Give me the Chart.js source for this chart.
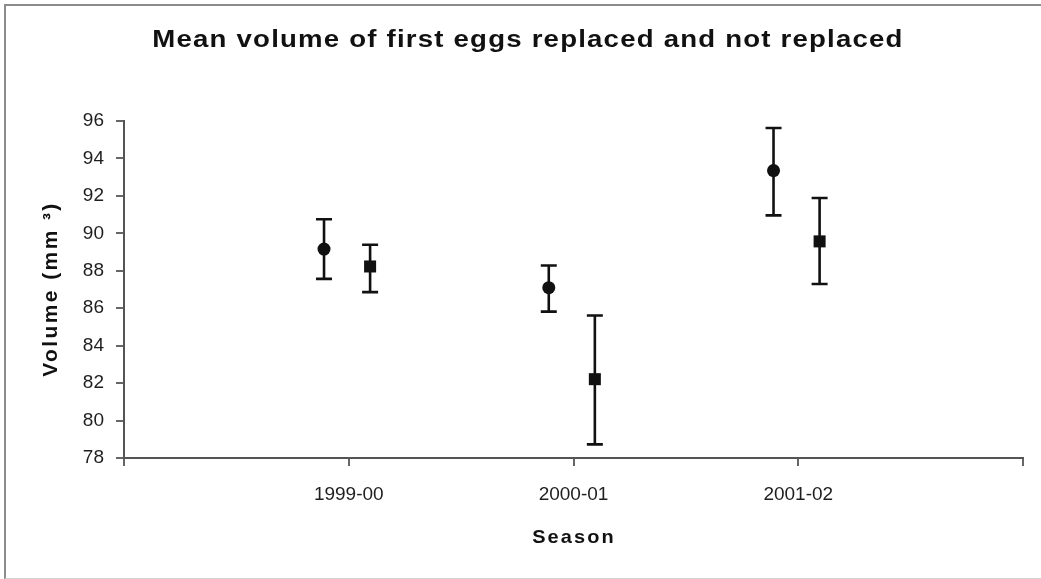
<!DOCTYPE html>
<html lang="en">
<head>
<meta charset="UTF-8">
<title>Mean volume of first eggs</title>
<script src="https://cdn.jsdelivr.net/npm/chart.js"></script>
<style>
  html, body { margin: 0; padding: 0; background: #fff; }
  .janela { position: relative; width: 1041px; height: 579px; overflow: hidden; }
  .janela canvas { position: absolute; left: 0; top: 0; }
  .moldura {
    position: absolute; left: 4px; top: 4px; right: -10px; bottom: 0;
    border-left: 2px solid #8c8c8c; border-top: 2px solid #8c8c8c;
    border-bottom: 1px solid #d4d4d4; pointer-events: none;
  }
</style>
</head>
<body>
<div class="janela">
  <canvas id="grafico" width="1041" height="579"></canvas>
  <div class="moldura"></div>
</div>

<script>
const TITULO = 'Mean volume of first eggs replaced and not replaced';
const TITULO_X = 'Season';
const TITULO_Y = 'Volume (mm \u00B3)';

const seasons = ['1999-00', '2000-01', '2001-02'];

// first eggs replaced (circles)
const replacedMean = [89.16, 87.10, 93.35];
const replacedLow  = [87.57, 85.82, 90.96];
const replacedHigh = [90.75, 88.28, 95.63];

// first eggs not replaced (squares)
const notReplacedMean = [88.23, 82.21, 89.57];
const notReplacedLow  = [86.86, 78.73, 87.29];
const notReplacedHigh = [89.39, 85.61, 91.89];

const yMin = 78;
const yMax = 96;
const yStep = 2;

// each season sits at 1, 2, 3 on the x axis; the two series are nudged apart
const OFFSET_REPLACED = -0.11;
const OFFSET_NOT_REPLACED = 0.095;

const fonte = '"Liberation Sans", Arial, sans-serif';

// vertical error bars with caps, drawn under the markers
const errorBars = {
    id: 'errorBars',
    beforeDatasetsDraw(chart) {
        const { ctx, scales: { x, y } } = chart;
        ctx.save();
        ctx.strokeStyle = '#111';
        ctx.lineWidth = 2.6;
        chart.data.datasets.forEach(ds => {
            ds.data.forEach((p, i) => {
                const px = x.getPixelForValue(p.x);
                const topo = y.getPixelForValue(ds.errHigh[i]);
                const base = y.getPixelForValue(ds.errLow[i]);
                ctx.beginPath();
                ctx.moveTo(px, topo); ctx.lineTo(px, base);
                ctx.moveTo(px - 8, topo); ctx.lineTo(px + 8, topo);
                ctx.moveTo(px - 8, base); ctx.lineTo(px + 8, base);
                ctx.stroke();
            });
        });
        ctx.restore();
    }
};

// heading and axis titles: wide, spaced-out bold lettering
function escreve(ctx, texto, x, y, tam, espaco, esticar, rot) {
    ctx.save();
    ctx.translate(x, y);
    if (rot) ctx.rotate(rot);
    ctx.scale(esticar, 1);
    ctx.font = 'bold ' + tam + 'px ' + fonte;
    ctx.letterSpacing = espaco + 'px';
    ctx.fillStyle = '#111';
    ctx.textAlign = 'center';
    ctx.textBaseline = 'middle';
    ctx.fillText(texto, 0, 0);
    ctx.restore();
}

const titulos = {
    id: 'titulos',
    afterDraw(chart) {
        const ctx = chart.ctx;
        escreve(ctx, TITULO, 528, 41, 23, 1, 1.2, 0);
        escreve(ctx, TITULO_X, 574, 538, 19, 2, 1.05, 0);
        escreve(ctx, TITULO_Y, 51, 289, 21, 2.4, 1, -Math.PI / 2);
    }
};

const ctx = document.getElementById('grafico').getContext('2d');

new Chart(ctx, {
    type: 'scatter',
    data: {
        datasets: [
            {
                label: 'Replaced',
                data: seasons.map((s, i) => ({ x: i + 1 + OFFSET_REPLACED, y: replacedMean[i] })),
                errLow: replacedLow,
                errHigh: replacedHigh,
                pointStyle: 'circle',
                pointRadius: 6.5,
                backgroundColor: '#111',
                borderColor: '#111',
                borderWidth: 0
            },
            {
                label: 'Not replaced',
                data: seasons.map((s, i) => ({ x: i + 1 + OFFSET_NOT_REPLACED, y: notReplacedMean[i] })),
                errLow: notReplacedLow,
                errHigh: notReplacedHigh,
                pointStyle: 'rect',
                pointRadius: 8.5,
                backgroundColor: '#111',
                borderColor: '#111',
                borderWidth: 0
            }
        ]
    },
    options: {
        responsive: false,
        animation: false,
        layout: { padding: { left: 32, right: 18, top: 121, bottom: 0 } },
        plugins: {
            legend: { display: false },
            title: { display: false },
            tooltip: { enabled: false }
        },
        scales: {
            x: {
                type: 'linear',
                min: 0,
                max: 4,
                afterFit: scale => { scale.height = 121; },
                ticks: {
                    stepSize: 1,
                    autoSkip: false,
                    maxRotation: 0,
                    padding: 17,
                    color: '#1e1e1e',
                    font: { family: fonte, size: 19 },
                    callback: v => seasons[v - 1] ?? ''
                },
                grid: { drawOnChartArea: false, tickLength: 8, color: '#666', lineWidth: 2 },
                border: { color: '#555', width: 2 }
            },
            y: {
                min: yMin,
                max: yMax,
                afterFit: scale => { scale.width = 92; },
                ticks: {
                    stepSize: yStep,
                    padding: 12,
                    color: '#1e1e1e',
                    font: { family: fonte, size: 19 }
                },
                grid: { drawOnChartArea: false, tickLength: 8, color: '#666', lineWidth: 2 },
                border: { color: '#555', width: 2 }
            }
        }
    },
    plugins: [errorBars, titulos]
});
</script>
</body>
</html>
